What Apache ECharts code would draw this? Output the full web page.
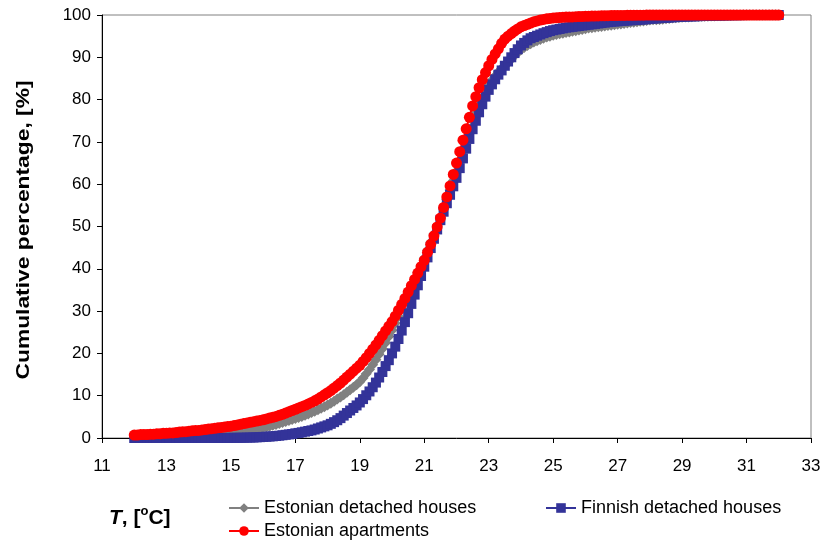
<!DOCTYPE html>
<html><head><meta charset="utf-8">
<script src="https://cdn.jsdelivr.net/npm/echarts@6/dist/echarts.min.js"></script>
<style>html,body{margin:0;padding:0;background:#fff}#c{width:825px;height:545px}</style>
</head><body><div id="c"></div>
<script>
const temperatures = [
12.0,12.1,12.2,12.3,12.4,12.5,12.6,12.7,12.8,12.9,
13.0,13.1,13.2,13.3,13.4,13.5,13.6,13.7,13.8,13.9,
14.0,14.1,14.2,14.3,14.4,14.5,14.6,14.7,14.8,14.9,
15.0,15.1,15.2,15.3,15.4,15.5,15.6,15.7,15.8,15.9,
16.0,16.1,16.2,16.3,16.4,16.5,16.6,16.7,16.8,16.9,
17.0,17.1,17.2,17.3,17.4,17.5,17.6,17.7,17.8,17.9,
18.0,18.1,18.2,18.3,18.4,18.5,18.6,18.7,18.8,18.9,
19.0,19.1,19.2,19.3,19.4,19.5,19.6,19.7,19.8,19.9,
20.0,20.1,20.2,20.3,20.4,20.5,20.6,20.7,20.8,20.9,
21.0,21.1,21.2,21.3,21.4,21.5,21.6,21.7,21.8,21.9,
22.0,22.1,22.2,22.3,22.4,22.5,22.6,22.7,22.8,22.9,
23.0,23.1,23.2,23.3,23.4,23.5,23.6,23.7,23.8,23.9,
24.0,24.1,24.2,24.3,24.4,24.5,24.6,24.7,24.8,24.9,
25.0,25.1,25.2,25.3,25.4,25.5,25.6,25.7,25.8,25.9,
26.0,26.1,26.2,26.3,26.4,26.5,26.6,26.7,26.8,26.9,
27.0,27.1,27.2,27.3,27.4,27.5,27.6,27.7,27.8,27.9,
28.0,28.1,28.2,28.3,28.4,28.5,28.6,28.7,28.8,28.9,
29.0,29.1,29.2,29.3,29.4,29.5,29.6,29.7,29.8,29.9,
30.0,30.1,30.2,30.3,30.4,30.5,30.6,30.7,30.8,30.9,
31.0,31.1,31.2,31.3,31.4,31.5,31.6,31.7,31.8,31.9,
32.0];

const estonianDetached = [
0.15,0.17,0.19,0.21,0.23,0.25,0.28,0.31,0.34,0.37,
0.4,0.43,0.46,0.5,0.54,0.58,0.62,0.66,0.7,0.72,
0.75,0.79,0.83,0.87,0.91,0.95,1.0,1.05,1.1,1.15,
1.2,1.3,1.4,1.5,1.6,1.7,1.8,1.95,2.1,2.25,
2.4,2.6,2.8,3.0,3.2,3.4,3.65,3.9,4.15,4.35,
4.6,4.85,5.1,5.4,5.7,6.0,6.35,6.7,7.05,7.4,
7.8,8.2,8.7,9.2,9.7,10.2,10.8,11.4,12.0,12.6,
13.3,14.2,15.2,16.2,17.3,18.5,19.8,21.1,22.5,24.0,
25.5,27.1,28.7,30.4,32.2,34.0,35.7,37.4,39.1,40.8,
42.5,44.4,46.3,48.2,50.1,52.0,54.2,56.4,58.6,60.8,
63.0,65.4,67.8,70.2,72.6,75.0,76.8,78.6,80.4,82.0,
83.5,84.6,85.6,86.5,87.3,88.0,88.8,89.6,90.4,91.1,
91.8,92.3,92.8,93.2,93.6,93.9,94.2,94.5,94.8,95.0,
95.2,95.4,95.55,95.7,95.85,96.0,96.15,96.3,96.45,96.6,
96.75,96.9,97.0,97.1,97.2,97.3,97.4,97.5,97.6,97.7,
97.8,97.9,98.0,98.1,98.2,98.3,98.4,98.5,98.6,98.7,
98.8,98.85,98.9,98.95,99.0,99.1,99.2,99.3,99.35,99.4,
99.45,99.5,99.55,99.6,99.62,99.65,99.68,99.7,99.72,99.75,
99.78,99.8,99.82,99.85,99.87,99.9,99.92,99.94,99.96,99.98,
100,100,100,100,100,100,100,100,100,100,
100];

const finnishDetached = [
0,0,0,0,0,0,0,0,0,0,
0,0,0,0,0,0,0,0,0,0,
0,0,0,0,0,0,0.01,0.01,0.02,0.02,
0.03,0.04,0.05,0.06,0.07,0.09,0.11,0.13,0.16,0.2,
0.25,0.3,0.35,0.4,0.47,0.55,0.65,0.75,0.85,0.95,
1.1,1.2,1.35,1.5,1.65,1.8,2.0,2.25,2.5,2.75,
3.0,3.35,3.75,4.2,4.7,5.3,5.9,6.5,7.1,7.7,
8.4,9.2,10.1,11.0,12.0,13.1,14.3,15.6,17.0,18.4,
20.0,21.6,23.4,25.4,27.4,29.5,31.7,33.9,36.1,38.3,
40.5,42.7,44.9,47.1,49.3,51.5,53.5,55.5,57.5,59.5,
61.5,63.8,66.1,68.4,70.7,73.0,75.0,77.0,78.9,80.7,
82.3,83.6,84.8,85.9,86.9,88.0,89.0,90.0,91.0,91.9,
92.8,93.4,94.0,94.5,94.8,95.1,95.4,95.7,95.95,96.2,
96.4,96.55,96.7,96.85,97.0,97.1,97.2,97.3,97.4,97.5,
97.6,97.7,97.8,97.9,98.0,98.1,98.2,98.3,98.4,98.45,
98.5,98.6,98.65,98.7,98.75,98.8,98.85,98.9,98.95,99.0,
99.1,99.15,99.2,99.25,99.3,99.35,99.4,99.45,99.5,99.55,
99.6,99.62,99.65,99.68,99.7,99.72,99.75,99.77,99.8,99.82,
99.84,99.86,99.88,99.9,99.92,99.94,99.95,99.96,99.97,99.98,
100,100,100,100,100,100,100,100,100,100,
100];

const estonianApartments = [
0.7,0.7,0.8,0.8,0.8,0.9,0.9,1.0,1.0,1.1,
1.1,1.2,1.2,1.3,1.4,1.45,1.5,1.6,1.7,1.75,
1.8,1.9,2.0,2.1,2.2,2.3,2.4,2.5,2.6,2.7,
2.8,2.95,3.1,3.25,3.4,3.55,3.7,3.85,4.0,4.15,
4.3,4.5,4.7,4.9,5.1,5.35,5.6,5.9,6.2,6.5,
6.8,7.1,7.4,7.7,8.05,8.4,8.8,9.2,9.7,10.2,
10.7,11.2,11.8,12.4,13.0,13.7,14.4,15.1,15.8,16.5,
17.2,18.1,19.0,20.0,21.0,22.0,23.1,24.2,25.3,26.4,
27.5,28.8,30.2,31.6,33.0,34.5,36.0,37.5,39.0,40.5,
42.0,43.9,45.8,47.8,49.9,52.0,54.5,57.0,59.6,62.3,
65.0,67.7,70.4,73.1,75.8,78.5,80.7,82.8,84.7,86.4,
88.0,89.5,90.8,92.0,93.3,94.3,95.0,95.6,96.2,96.7,
97.2,97.5,97.8,98.1,98.4,98.6,98.8,98.95,99.1,99.2,
99.3,99.35,99.4,99.45,99.5,99.52,99.55,99.6,99.62,99.65,
99.7,99.72,99.74,99.76,99.78,99.8,99.82,99.84,99.86,99.88,
99.9,99.9,99.91,99.92,99.93,99.94,99.95,99.96,99.97,99.98,
100,100,100,100,100,100,100,100,100,100,
100,100,100,100,100,100,100,100,100,100,
100,100,100,100,100,100,100,100,100,100,
100,100,100,100,100,100,100,100,100,100,
100];

const seriesNames = ['Estonian detached houses', 'Finnish detached houses', 'Estonian apartments'];
const yAxisTitle = 'Cumulative percentage, [%]';

function pairs(vals){ return temperatures.map((t,i)=>[t, vals[i]]); }

const FONT = '"Liberation Sans", Arial, sans-serif';
const chart = echarts.init(document.getElementById('c'), null, {renderer:'canvas'});

const legendText = {fontFamily: FONT, fontSize: 18, color: '#000'};
const legendCommon = {itemWidth: 30, itemHeight: 12, itemGap: 4, textStyle: legendText, padding: 0};
chart.setOption({
  animation: false,
  backgroundColor: '#fff',
  grid: {left: 102, right: 14, top: 15, bottom: 107, show: true, borderColor: '#808080', borderWidth: 1},
  xAxis: {
    type: 'value', min: 11, max: 33, interval: 2,
    axisLine: {lineStyle: {color: '#000', width: 1}},
    axisTick: {show: true, inside: false, length: 5, lineStyle: {color: '#000'}},
    axisLabel: {fontFamily: FONT, fontSize: 17, color: '#000', margin: 20},
    splitLine: {show: false}
  },
  yAxis: {
    type: 'value', min: 0, max: 100, interval: 10,
    axisLine: {show: true, lineStyle: {color: '#000', width: 1}},
    axisTick: {show: true, inside: false, length: 5, lineStyle: {color: '#000'}},
    axisLabel: {fontFamily: FONT, fontSize: 17, color: '#000', margin: 11},
    splitLine: {show: false}
  },
  legend: [
    Object.assign({data: [seriesNames[0]], left: 228, top: 499}, legendCommon),
    Object.assign({data: [seriesNames[1]], left: 545, top: 499}, legendCommon),
    Object.assign({data: [seriesNames[2]], left: 228, top: 522}, legendCommon)
  ],
  graphic: [{
    type: 'text', x: 24, y: 230, rotation: Math.PI / 2, scaleX: 1.2,
    style: {
      text: yAxisTitle, fontFamily: FONT, fontSize: 19, fontWeight: 'bold', fill: '#000',
      align: 'center', verticalAlign: 'middle'
    }
  }, {
    type: 'text', left: 109, top: 505,
    style: {
      text: '{t|T}{b|, [}{s|o}{b|C]}',
      rich: {
        t: {fontFamily: FONT, fontSize: 21, fontWeight: 'bold', fontStyle: 'italic', fill: '#000', lineHeight: 27},
        b: {fontFamily: FONT, fontSize: 21, fontWeight: 'bold', fill: '#000', lineHeight: 27},
        s: {fontFamily: FONT, fontSize: 13, fontWeight: 'bold', fill: '#000', lineHeight: 27, verticalAlign: 'top', padding: [0,0,12,0]}
      }
    }
  }],
  series: [
    {name: seriesNames[0], type: 'line', data: pairs(estonianDetached), symbol: 'diamond', symbolSize: 11,
     showSymbol: true, showAllSymbol: true, clip: false,
     itemStyle: {color: '#808080'}, lineStyle: {color: '#808080', width: 2}},
    {name: seriesNames[1], type: 'line', data: pairs(finnishDetached), symbol: 'rect', symbolSize: 10,
     showSymbol: true, showAllSymbol: true, clip: false,
     itemStyle: {color: '#333399'}, lineStyle: {color: '#333399', width: 2}},
    {name: seriesNames[2], type: 'line', data: pairs(estonianApartments), symbol: 'circle', symbolSize: 11,
     showSymbol: true, showAllSymbol: true, clip: false,
     itemStyle: {color: '#ff0000'}, lineStyle: {color: '#ff0000', width: 2}}
  ]
});
</script></body></html>
